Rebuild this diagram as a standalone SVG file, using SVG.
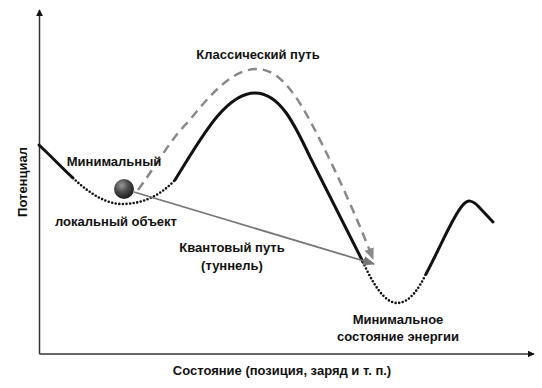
<svg xmlns="http://www.w3.org/2000/svg" width="542" height="388" viewBox="0 0 542 388">
<defs>
<style>
.t{font-family:"Liberation Sans",Arial,sans-serif;font-size:13px;font-weight:bold;fill:#111}
.solid{fill:none;stroke:#111;stroke-width:3;stroke-linecap:round;stroke-linejoin:round}
.dot{fill:none;stroke:#111;stroke-width:2.6;stroke-dasharray:0 3.6;stroke-linecap:round}
.axis{fill:none;stroke:#333;stroke-width:1.5}
</style>
<marker id="ax" viewBox="0 0 10 10" refX="9" refY="5" markerWidth="7" markerHeight="7" orient="auto" markerUnits="userSpaceOnUse">
<path d="M0,0 L10,5 L0,10 z" fill="#111"/>
</marker>
<marker id="ga" viewBox="0 0 10 10" refX="9" refY="5" markerWidth="12" markerHeight="12" orient="auto" markerUnits="userSpaceOnUse">
<path d="M0,1 L10,5 L0,9 z" fill="#777"/>
</marker>
<marker id="da" viewBox="0 0 10 10" refX="9" refY="5" markerWidth="12" markerHeight="12" orient="auto" markerUnits="userSpaceOnUse">
<path d="M0,1 L10,5 L0,9 z" fill="#888"/>
</marker>
<radialGradient id="ball" cx="0.38" cy="0.32" r="0.7">
<stop offset="0" stop-color="#9a9a9a"/>
<stop offset="0.5" stop-color="#4a4a4a"/>
<stop offset="1" stop-color="#1a1a1a"/>
</radialGradient>
</defs>
<rect width="542" height="388" fill="#fff"/>
<g id="axes">
<path class="axis" d="M39.5,354 L39.5,10" marker-end="url(#ax)"/>
<path class="axis" d="M39.5,354 L534,354" marker-end="url(#ax)"/>
<text class="t" transform="translate(27,182) rotate(-90)" text-anchor="middle">Потенциал</text>
<text class="t" x="282" y="375" text-anchor="middle">Состояние (позиция, заряд и т. п.)</text>
</g>
<g id="potential">
<path class="solid" d="M39,145 C52,157 62,168 73,178"/>
<path class="dot" d="M73,178 C92,196 108,204 122,204 C142,204 160,196 175,180"/>
<path class="solid" d="M175,180 C200,140 225,93 255,93 C280,93 295,125 310,157 L363,262"/>
<path class="dot" d="M363,262 C372,282 384,303 397,303 C410,303 419,288 426,274"/>
<path class="solid" d="M426,274 C440,248 452,218 462,206 C468,199 472,200 478,206 L493,222"/>
</g>
<g id="connectors">
<path d="M138,190 C160,160 170,140 188,122 C210,95 232,69 257,69 C285,69 305,110 325,150 C340,180 360,225 373,259" fill="none" stroke="#888" stroke-width="2.5" stroke-dasharray="9 6" marker-end="url(#da)"/>
<path d="M134,192 L374,264" fill="none" stroke="#777" stroke-width="1.8" marker-end="url(#ga)"/>
</g>
<g id="ball-node">
<circle cx="124" cy="189" r="10" fill="url(#ball)"/>
</g>
<g id="labels">
<text class="t" x="258" y="59" text-anchor="middle">Классический путь</text>
<text class="t" x="114" y="166" text-anchor="middle">Минимальный</text>
<text class="t" x="116" y="226" text-anchor="middle">локальный объект</text>
<text class="t" x="232" y="252" text-anchor="middle">Квантовый путь</text>
<text class="t" x="232" y="270" text-anchor="middle">(туннель)</text>
<text class="t" x="398" y="324" text-anchor="middle">Минимальное</text>
<text class="t" x="398" y="341" text-anchor="middle">состояние энергии</text>
</g>
</svg>
